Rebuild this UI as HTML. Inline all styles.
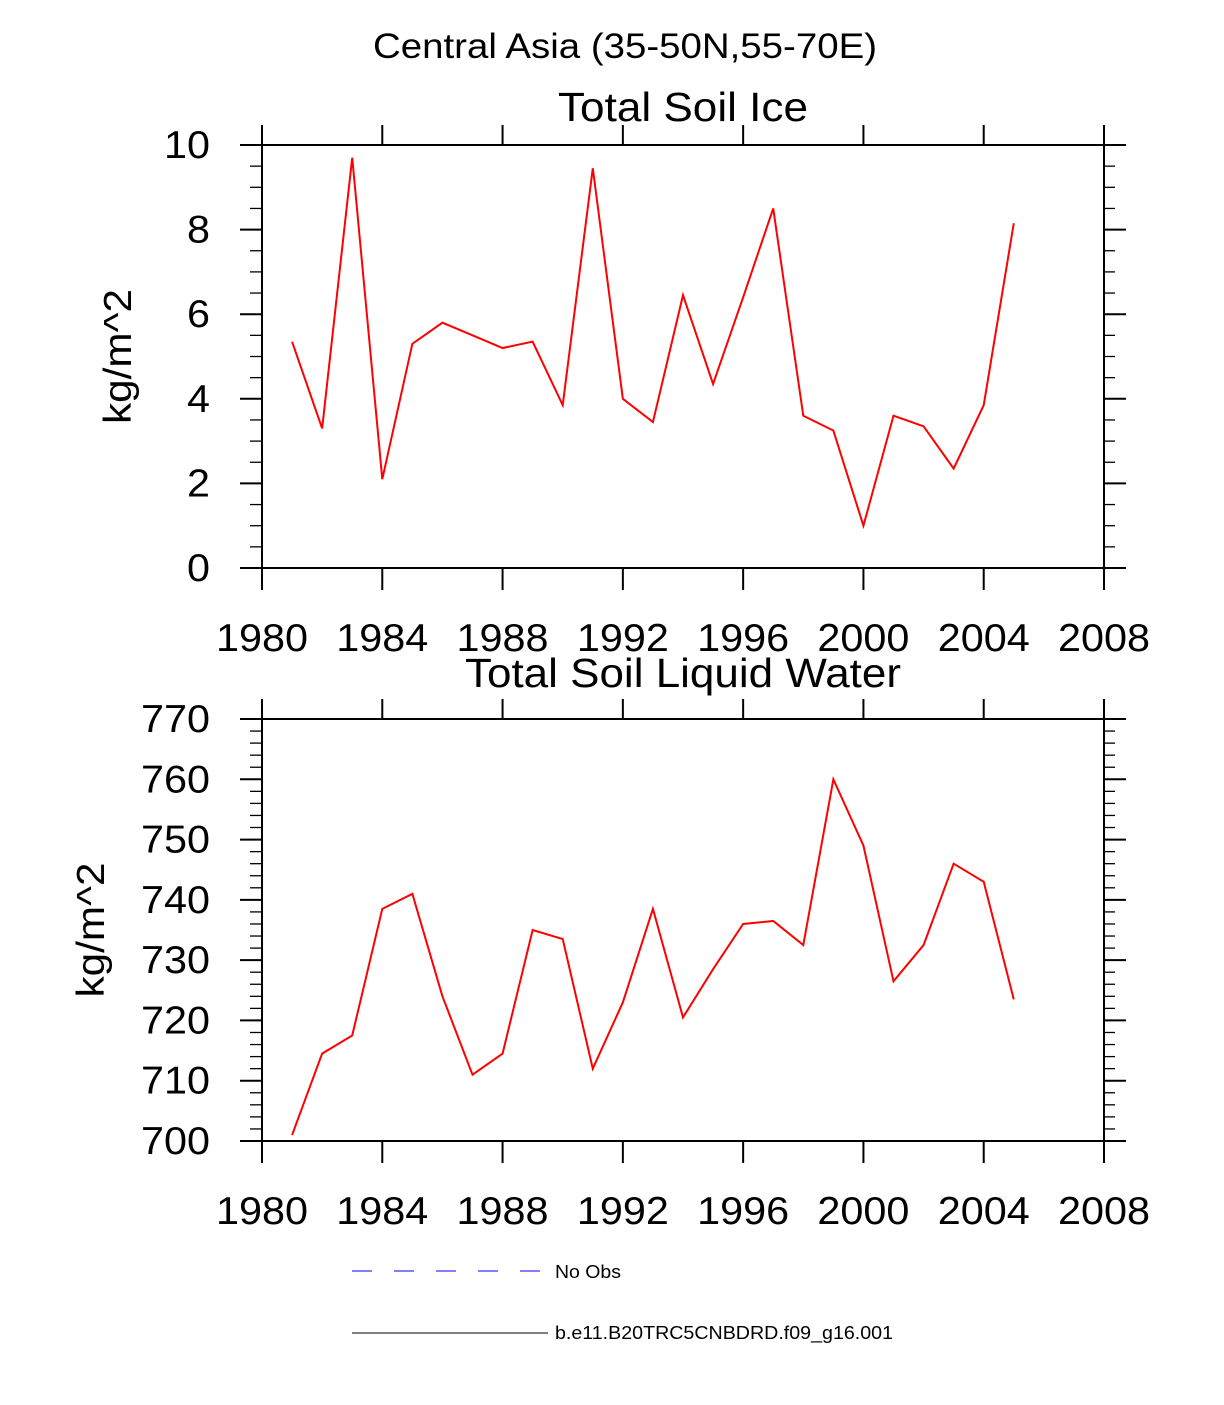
<!DOCTYPE html>
<html><head><meta charset="utf-8"><style>
body{margin:0;background:#fff;}
svg text{font-family:"Liberation Sans",sans-serif;fill:#000;}
</style></head><body>
<svg id="c" width="1224" height="1400" xmlns="http://www.w3.org/2000/svg">
<text x="625" y="58" font-size="35" text-anchor="middle" textLength="504" lengthAdjust="spacingAndGlyphs">Central Asia (35-50N,55-70E)</text>
<g id="legend">
<line x1="352" y1="1271" x2="545" y2="1271" stroke="#00f" stroke-width="1" stroke-dasharray="20,22"/>
<text x="555" y="1278" font-size="18" textLength="66" lengthAdjust="spacingAndGlyphs">No Obs</text>
<line x1="352" y1="1333" x2="548" y2="1333" stroke="#000" stroke-width="1"/>
<text x="555" y="1339" font-size="18" textLength="338" lengthAdjust="spacingAndGlyphs">b.e11.B20TRC5CNBDRD.f09_g16.001</text>
</g>
</svg>
<script>
const years=[1981,1982,1983,1984,1985,1986,1987,1988,1989,1990,1991,1992,1993,1994,1995,1996,1997,1998,1999,2000,2001,2002,2003,2004,2005];
const iceValues=[5.35,3.3,9.7,2.1,5.3,5.8,5.5,5.2,5.35,3.85,9.45,4.0,3.45,6.45,4.35,6.4,8.5,3.6,3.25,1.0,3.6,3.35,2.35,3.85,8.15];
const liquidValues=[701,714.5,717.5,738.5,741,724,711,714.5,735,733.5,712,723,738.5,720.5,728.5,736,736.5,732.5,760,749,726.5,732.5,746,743,723.5];
const xTicks=[1980,1984,1988,1992,1996,2000,2004,2008];
const iceYTicks=[0,2,4,6,8,10];
const liquidYTicks=[700,710,720,730,740,750,760,770];
const NS='http://www.w3.org/2000/svg';
const svg=document.getElementById('c');
function mk(t,a,p){const e=document.createElementNS(NS,t);for(const k in a)e.setAttribute(k,a[k]);(p||svg).appendChild(e);return e;}
function panel(o){
 const g=mk('g',{});
 
 
 const L=262,R=1104,T=o.top,B=o.bottom;
 const xs=v=>L+(v-1980)/28*(R-L);
 const ys=v=>B-(v-o.ymin)/(o.ymax-o.ymin)*(B-T);
 const st={stroke:'#000','stroke-width':2};
 mk('line',Object.assign({x1:240,y1:T,x2:1126,y2:T},st),g);
 mk('line',Object.assign({x1:240,y1:B,x2:1126,y2:B},st),g);
 mk('line',Object.assign({x1:L,y1:T-20,x2:L,y2:B+22},st),g);
 mk('line',Object.assign({x1:R,y1:T-20,x2:R,y2:B+22},st),g);
 xTicks.forEach(v=>{
  const x=xs(v);
  mk('line',Object.assign({x1:x,y1:T-20,x2:x,y2:T},st),g);
  mk('line',Object.assign({x1:x,y1:B,x2:x,y2:B+22},st),g);
  const t=mk('text',{x:x,y:B+83,'font-size':39,'text-anchor':'middle',textLength:92,lengthAdjust:'spacingAndGlyphs'},g);
  
  
  t.textContent=v;
 });
 o.yt.forEach(v=>{
  const y=ys(v);
  mk('line',Object.assign({x1:240,y1:y,x2:L,y2:y},st),g);
  mk('line',Object.assign({x1:R,y1:y,x2:1126,y2:y},st),g);
  const s=String(v);
  const t=mk('text',{x:210,y:y+13,'font-size':39,'text-anchor':'end',textLength:s.length*23,lengthAdjust:'spacingAndGlyphs'},g);
  
  
  t.textContent=v;
 });
 for(let v=o.ymin;v<=o.ymax+1e-9;v+=o.minor){
  const y=ys(v);
  mk('line',{x1:250,y1:y,x2:L,y2:y,stroke:'#000','stroke-width':1.3},g);
  mk('line',{x1:R,y1:y,x2:1115,y2:y,stroke:'#000','stroke-width':1.3},g);
 }
 const tt=mk('text',{x:683,y:T-o.tOff,'font-size':41,'text-anchor':'middle',textLength:o.tl,lengthAdjust:'spacingAndGlyphs'},g);
 
 
 tt.textContent=o.title;
 const yl=mk('text',{x:0,y:0,'font-size':39,'text-anchor':'middle',textLength:135,lengthAdjust:'spacingAndGlyphs',transform:`translate(${o.ylx},${(T+B)/2}) rotate(-90)`},g);
 
 
 yl.textContent='kg/m^2';
 const pts=years.map((y,i)=>xs(y)+','+ys(o.vals[i])).join(' ');
 const pl=mk('polyline',{points:pts,fill:'none',stroke:'#f00','stroke-width':2},g);
 
 
}
panel({name:'soil-ice-panel',title:'Total Soil Ice',tl:250,tOff:24,top:145,bottom:568,ymin:0,ymax:10,yt:iceYTicks,minor:0.5,vals:iceValues,ylx:131});
panel({name:'soil-liquid-panel',title:'Total Soil Liquid Water',tl:436,tOff:32,top:719,bottom:1141,ymin:700,ymax:770,yt:liquidYTicks,minor:2,vals:liquidValues,ylx:104});
</script>
</body></html>
